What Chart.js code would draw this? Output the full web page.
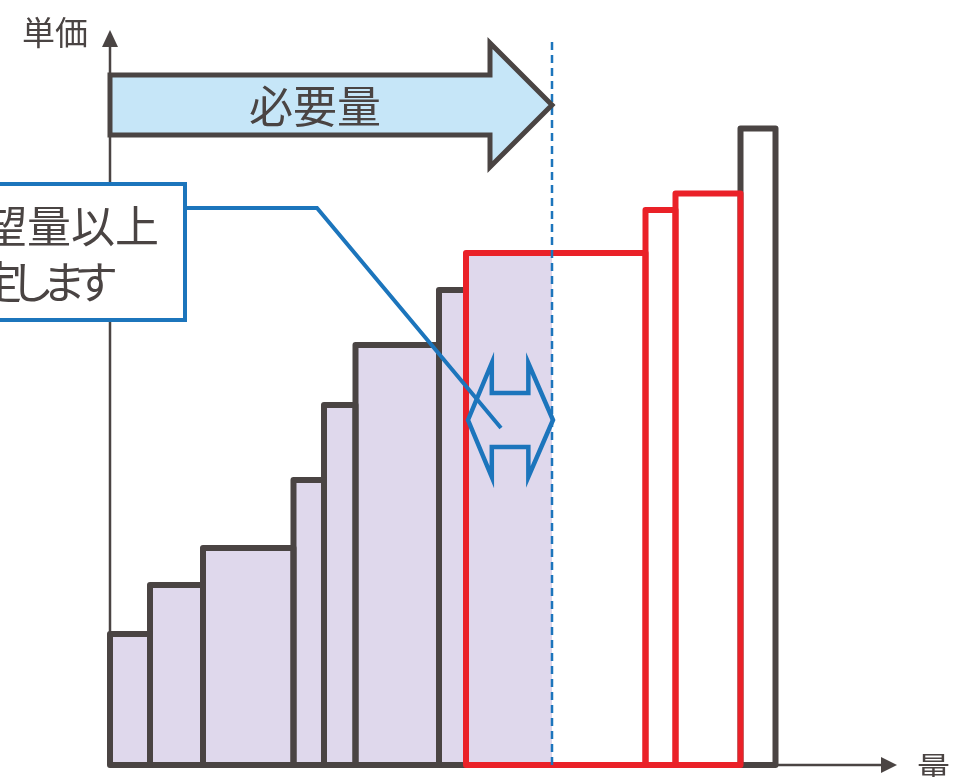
<!DOCTYPE html>
<html lang="ja">
<head>
<meta charset="utf-8">
<script src="https://cdn.jsdelivr.net/npm/chart.js@4.4.0/dist/chart.umd.min.js"></script>
<style>
    body { margin: 0; background: #fff; }
    #wrap { width: 953px; height: 777px; position: relative; }
</style>
</head>
<body>
<div id="wrap"><canvas id="meritChart"></canvas></div>
<script>
// offers: quantity (width) and unit price of each block, in bid order
const widths = [4.0, 5.3, 9.05, 3.05, 3.15, 8.35, 2.7, 17.95, 3.0, 6.5, 3.5];
const prices = [13.1, 18.0, 21.7, 28.5, 36.0, 42.0, 47.5, 51.2, 55.5, 57.15, 63.65];
const winning = [7, 8, 9];      // blocks awarded beyond the required amount
const demand = 44.2;            // 必要量
const xMax = 78.7;
const yMax = 73.5;

const yLabel = '単価';
const xLabel = '量';
const demandLabel = '必要量';
const calloutLines = ['希望量以上', '約定します'];

const dark = '#4a4443';
const red = '#ea2128';
const blue = '#1c75bc';
const purple = '#dfd8ec';
const lightBlue = '#c6e6f8';
const font = '"Noto Sans CJK JP", "Noto Sans", sans-serif';

// cumulative start of each block
const starts = [];
let acc = 0;
widths.forEach(function (w) { starts.push(acc); acc += w; });

// shaded area up to the required amount
const fillPts = [{ x: 0, y: 0 }];
for (let i = 0; i < widths.length; i++) {
    if (starts[i] >= demand) break;
    const end = Math.min(starts[i] + widths[i], demand);
    fillPts.push({ x: starts[i], y: prices[i] });
    fillPts.push({ x: end, y: prices[i] });
}
fillPts.push({ x: demand, y: 0 });

const datasets = [{
    data: fillPts,
    backgroundColor: purple,
    borderWidth: 0,
    fill: 'origin',
    pointRadius: 0,
    order: 3
}];

widths.forEach(function (w, i) {
    const s = starts[i], e = s + w, p = prices[i];
    const won = winning.indexOf(i) >= 0;
    datasets.push({
        data: [{ x: s, y: 0 }, { x: s, y: p }, { x: e, y: p }, { x: e, y: 0 }, { x: s, y: 0 }, { x: s, y: p }],
        borderColor: won ? red : dark,
        borderWidth: 6,
        borderJoinStyle: 'round',
        fill: false,
        pointRadius: 0,
        tension: 0,
        clip: false,
        order: won ? 1 : 2
    });
});

const decorations = {
    id: 'decorations',
    beforeDatasetsDraw: function (chart) {
        const ctx = chart.ctx;
        const x = chart.scales.x, y = chart.scales.y;
        const x0 = x.getPixelForValue(0), y0 = y.getPixelForValue(0);
        const xEnd = x.getPixelForValue(xMax), yEnd = y.getPixelForValue(yMax);
        ctx.save();
        ctx.strokeStyle = dark;
        ctx.fillStyle = dark;
        ctx.lineWidth = 2.5;
        // axes
        ctx.beginPath();
        ctx.moveTo(x0, y0);
        ctx.lineTo(x0, yEnd + 16);
        ctx.moveTo(x0, y0);
        ctx.lineTo(xEnd - 15, y0);
        ctx.stroke();
        ctx.beginPath();
        ctx.moveTo(x0, yEnd);
        ctx.lineTo(x0 - 8, yEnd + 17);
        ctx.lineTo(x0 + 8, yEnd + 17);
        ctx.closePath();
        ctx.fill();
        ctx.beginPath();
        ctx.moveTo(xEnd, y0);
        ctx.lineTo(xEnd - 16, y0 - 8);
        ctx.lineTo(xEnd - 16, y0 + 8);
        ctx.closePath();
        ctx.fill();
        ctx.font = '33px ' + font;
        ctx.textBaseline = 'middle';
        ctx.textAlign = 'right';
        ctx.fillText(yLabel, x0 - 22, yEnd + 2);
        ctx.textAlign = 'left';
        ctx.fillText(xLabel, xEnd + 20, y0 + 3);
        ctx.restore();
    },
    afterDatasetsDraw: function (chart) {
        const ctx = chart.ctx;
        const x = chart.scales.x, y = chart.scales.y;
        const x0 = x.getPixelForValue(0), y0 = y.getPixelForValue(0);
        const xd = x.getPixelForValue(demand);
        ctx.save();

        // dashed line at the required amount
        ctx.strokeStyle = blue;
        ctx.lineWidth = 2.5;
        ctx.setLineDash([8, 5]);
        ctx.beginPath();
        ctx.moveTo(xd, 42);
        ctx.lineTo(xd, y0);
        ctx.stroke();
        ctx.setLineDash([]);

        // 必要量 arrow
        const cy = 105, bodyH = 30, headH = 62, headL = 62;
        ctx.beginPath();
        ctx.moveTo(x0, cy - bodyH);
        ctx.lineTo(xd - headL, cy - bodyH);
        ctx.lineTo(xd - headL, cy - headH);
        ctx.lineTo(xd, cy);
        ctx.lineTo(xd - headL, cy + headH);
        ctx.lineTo(xd - headL, cy + bodyH);
        ctx.lineTo(x0, cy + bodyH);
        ctx.closePath();
        ctx.fillStyle = lightBlue;
        ctx.fill();
        ctx.strokeStyle = dark;
        ctx.lineWidth = 5;
        ctx.lineJoin = 'miter';
        ctx.stroke();
        ctx.fillStyle = dark;
        ctx.font = '44px ' + font;
        ctx.textAlign = 'center';
        ctx.textBaseline = 'middle';
        ctx.fillText(demandLabel, 315, cy + 1);

        // callout box
        ctx.fillStyle = '#fff';
        ctx.fillRect(-20, 184, 205, 136);
        ctx.strokeStyle = blue;
        ctx.lineWidth = 4;
        ctx.strokeRect(-20, 184, 205, 136);
        ctx.fillStyle = dark;
        ctx.textAlign = 'right';
        ctx.fillText(calloutLines[0], 159, 226);
        ctx.letterSpacing = '-12px';
        ctx.fillText(calloutLines[1], 106, 282);
        ctx.letterSpacing = '0px';

        // double-headed arrow inside the shaded red block
        const xl = x.getPixelForValue(starts[winning[0]]) + 2;
        const xr = xd + 1;
        const ay = 420, w = xr - xl;
        ctx.strokeStyle = blue;
        ctx.lineWidth = 4.5;
        ctx.lineJoin = 'miter';
        ctx.beginPath();
        ctx.moveTo(xl, ay);
        ctx.lineTo(xl + w * 0.28, ay - 57);
        ctx.lineTo(xl + w * 0.28, ay - 27);
        ctx.lineTo(xl + w * 0.71, ay - 27);
        ctx.lineTo(xl + w * 0.71, ay - 57);
        ctx.lineTo(xr, ay);
        ctx.lineTo(xl + w * 0.71, ay + 57);
        ctx.lineTo(xl + w * 0.71, ay + 27);
        ctx.lineTo(xl + w * 0.28, ay + 27);
        ctx.lineTo(xl + w * 0.28, ay + 57);
        ctx.closePath();
        ctx.stroke();

        // connector from callout
        ctx.lineWidth = 4;
        ctx.beginPath();
        ctx.moveTo(187, 208);
        ctx.lineTo(317, 208);
        ctx.lineTo(501, 428);
        ctx.stroke();
        ctx.restore();
    }
};

const chart = new Chart(document.getElementById('meritChart'), {
    type: 'line',
    data: { datasets: datasets },
    options: {
        responsive: true,
        maintainAspectRatio: false,
        animation: false,
        layout: { padding: { left: 110, right: 56, top: 30, bottom: 12 } },
        scales: {
            x: { type: 'linear', min: 0, max: xMax, display: false },
            y: { type: 'linear', min: 0, max: yMax, display: false }
        },
        plugins: {
            legend: { display: false },
            tooltip: { enabled: false }
        }
    },
    plugins: [decorations]
});
</script>
</body>
</html>
